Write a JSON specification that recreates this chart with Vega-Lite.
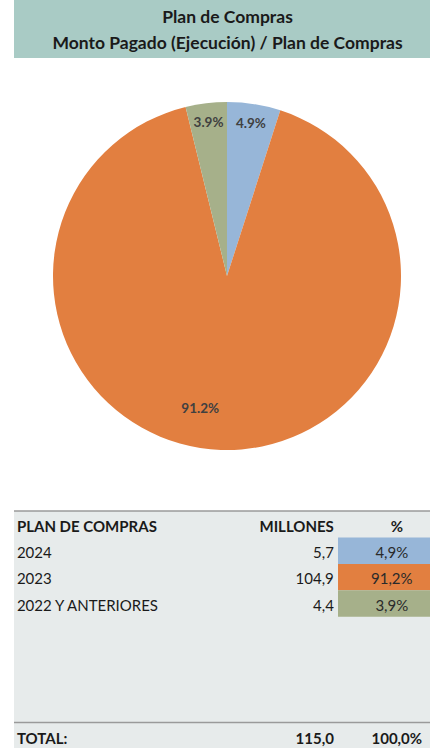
{
  "$schema": "https://vega.github.io/schema/vega-lite/v6.json",
  "background": "white",
  "padding": {"left": 13, "top": 0, "right": 0, "bottom": 0},
  "spacing": 0,
  "config": {"view": {"stroke": null}, "font": "Lato"},
  "datasets": {
    "compras": [
      {"periodo": "2024", "orden": 1, "millones": 5.7, "porcentaje": 0.049},
      {"periodo": "2023", "orden": 2, "millones": 104.9, "porcentaje": 0.912},
      {"periodo": "2022 Y ANTERIORES", "orden": 3, "millones": 4.4, "porcentaje": 0.039}
    ]
  },
  "vconcat": [
    {
      "width": 417,
      "height": 58,
      "view": {"fill": "#a9cbc5", "stroke": null},
      "data": {"values": [{"titulo": "Plan de Compras\nMonto Pagado (Ejecución) / Plan de Compras"}]},
      "mark": {"type": "text", "lineBreak": "\n", "lineHeight": 26, "fontSize": 17.5, "fontWeight": "bold", "color": "#1a1a1a", "baseline": "middle", "dx": 5, "dy": -11},
      "encoding": {"text": {"field": "titulo", "type": "nominal"}}
    },
    {
      "width": 417,
      "height": 452,
      "data": {"name": "compras"},
      "encoding": {
        "theta": {"field": "millones", "type": "quantitative", "stack": true},
        "order": {"field": "orden", "type": "quantitative"}
      },
      "layer": [
        {
          "mark": {"type": "arc", "outerRadius": 174, "xOffset": 4.5, "yOffset": -8},
          "encoding": {
            "color": {"field": "periodo", "type": "nominal", "legend": null,
              "scale": {"domain": ["2024", "2023", "2022 Y ANTERIORES"], "range": ["#97b6d8", "#e27f40", "#a6b08a"]}}
          }
        },
        {
          "mark": {"type": "text", "radius": 154, "xOffset": 4.5, "yOffset": -8, "fontSize": 13.5, "fontWeight": "bold", "color": "#404040"},
          "encoding": {
            "text": {"condition": {"test": "datum.orden != 2", "field": "porcentaje", "format": ".1%"}, "value": ""}
          }
        },
        {
          "mark": {"type": "text", "radius": 134, "xOffset": 4.5, "yOffset": -8, "dx": -22, "dy": -1, "fontSize": 13.5, "fontWeight": "bold", "color": "#404040"},
          "encoding": {
            "text": {"condition": {"test": "datum.orden == 2", "field": "porcentaje", "format": ".1%"}, "value": ""}
          }
        }
      ]
    },
    {
      "width": 417,
      "height": 238,
      "view": {"fill": "#e7ebeb", "stroke": null},
      "data": {"name": "compras"},
      "layer": [
        {
          "mark": {"type": "rect"},
          "encoding": {
            "x": {"datum": 0.777, "type": "quantitative", "scale": {"domain": [0, 1], "nice": false, "zero": false}, "axis": null},
            "x2": {"datum": 1},
            "y": {"field": "orden", "type": "ordinal", "scale": {"domain": [0, 1, 2, 3, 4, 5, 6, 7, 8], "paddingInner": 0, "paddingOuter": 0}, "axis": null},
            "color": {"field": "periodo", "type": "nominal", "legend": null,
              "scale": {"domain": ["2024", "2023", "2022 Y ANTERIORES"], "range": ["#8eaed3", "#e8803e", "#a7ad82"]}}
          }
        },
        {
          "mark": {"type": "text", "align": "left", "baseline": "middle", "dy": 2, "fontSize": 15, "color": "#1a1a1a"},
          "encoding": {
            "x": {"datum": 0.007, "type": "quantitative", "axis": null},
            "y": {"field": "orden", "type": "ordinal", "axis": null},
            "text": {"field": "periodo", "type": "nominal"}
          }
        },
        {
          "mark": {"type": "text", "align": "right", "baseline": "middle", "dy": 2, "fontSize": 15, "color": "#1a1a1a",
            "text": {"expr": "replace(format(datum.millones, '.1f'), '.', ',')"}},
          "encoding": {
            "x": {"datum": 0.767, "type": "quantitative", "axis": null},
            "y": {"field": "orden", "type": "ordinal", "axis": null}
          }
        },
        {
          "mark": {"type": "text", "align": "center", "baseline": "middle", "dy": 2, "fontSize": 15, "color": "#2a2a2a",
            "text": {"expr": "replace(format(datum.porcentaje, '.1%'), '.', ',')"}},
          "encoding": {
            "x": {"datum": 0.906, "type": "quantitative", "axis": null},
            "y": {"field": "orden", "type": "ordinal", "axis": null}
          }
        },
        {
          "data": {"values": [{"c1": "PLAN DE COMPRAS", "c2": "MILLONES", "c3": "%", "fila": 0}]},
          "encoding": {
            "y": {"field": "fila", "type": "ordinal", "axis": null}
          },
          "layer": [
            {
              "mark": {"type": "text", "align": "left", "baseline": "middle", "dy": 3, "fontSize": 15, "fontWeight": "bold", "color": "#1a1a1a"},
              "encoding": {"x": {"datum": 0.007, "type": "quantitative", "axis": null}, "text": {"field": "c1"}}
            },
            {
              "mark": {"type": "text", "align": "right", "baseline": "middle", "dy": 3, "fontSize": 15, "fontWeight": "bold", "color": "#1a1a1a"},
              "encoding": {"x": {"datum": 0.767, "type": "quantitative", "axis": null}, "text": {"field": "c2"}}
            },
            {
              "mark": {"type": "text", "align": "center", "baseline": "middle", "dy": 3, "fontSize": 15, "fontWeight": "bold", "color": "#1a1a1a"},
              "encoding": {"x": {"datum": 0.918, "type": "quantitative", "axis": null}, "text": {"field": "c3"}}
            }
          ]
        },
        {
          "transform": [
            {"aggregate": [{"op": "sum", "field": "millones", "as": "millones"}, {"op": "sum", "field": "porcentaje", "as": "porcentaje"}]},
            {"calculate": "8", "as": "fila"}
          ],
          "encoding": {
            "y": {"field": "fila", "type": "ordinal", "axis": null}
          },
          "layer": [
            {
              "mark": {"type": "text", "align": "left", "baseline": "middle", "dy": 3, "fontSize": 15, "fontWeight": "bold", "color": "#1a1a1a", "text": "TOTAL:"},
              "encoding": {"x": {"datum": 0.007, "type": "quantitative", "axis": null}}
            },
            {
              "mark": {"type": "text", "align": "right", "baseline": "middle", "dy": 3, "fontSize": 15, "fontWeight": "bold", "color": "#1a1a1a",
                "text": {"expr": "replace(format(datum.millones, '.1f'), '.', ',')"}},
              "encoding": {"x": {"datum": 0.767, "type": "quantitative", "axis": null}}
            },
            {
              "mark": {"type": "text", "align": "center", "baseline": "middle", "dy": 3, "fontSize": 15, "fontWeight": "bold", "color": "#1a1a1a",
                "text": {"expr": "replace(format(datum.porcentaje, '.1%'), '.', ',')"}},
              "encoding": {"x": {"datum": 0.918, "type": "quantitative", "axis": null}}
            }
          ]
        },
        {
          "data": {"values": [{"linea": 0}, {"linea": 8}]},
          "mark": {"type": "rule", "color": "#9a9a9a", "strokeWidth": 1.5},
          "encoding": {
            "x": {"datum": 0, "type": "quantitative", "axis": null},
            "x2": {"datum": 1},
            "y": {"field": "linea", "type": "ordinal", "bandPosition": 0, "axis": null}
          }
        }
      ]
    }
  ]
}
